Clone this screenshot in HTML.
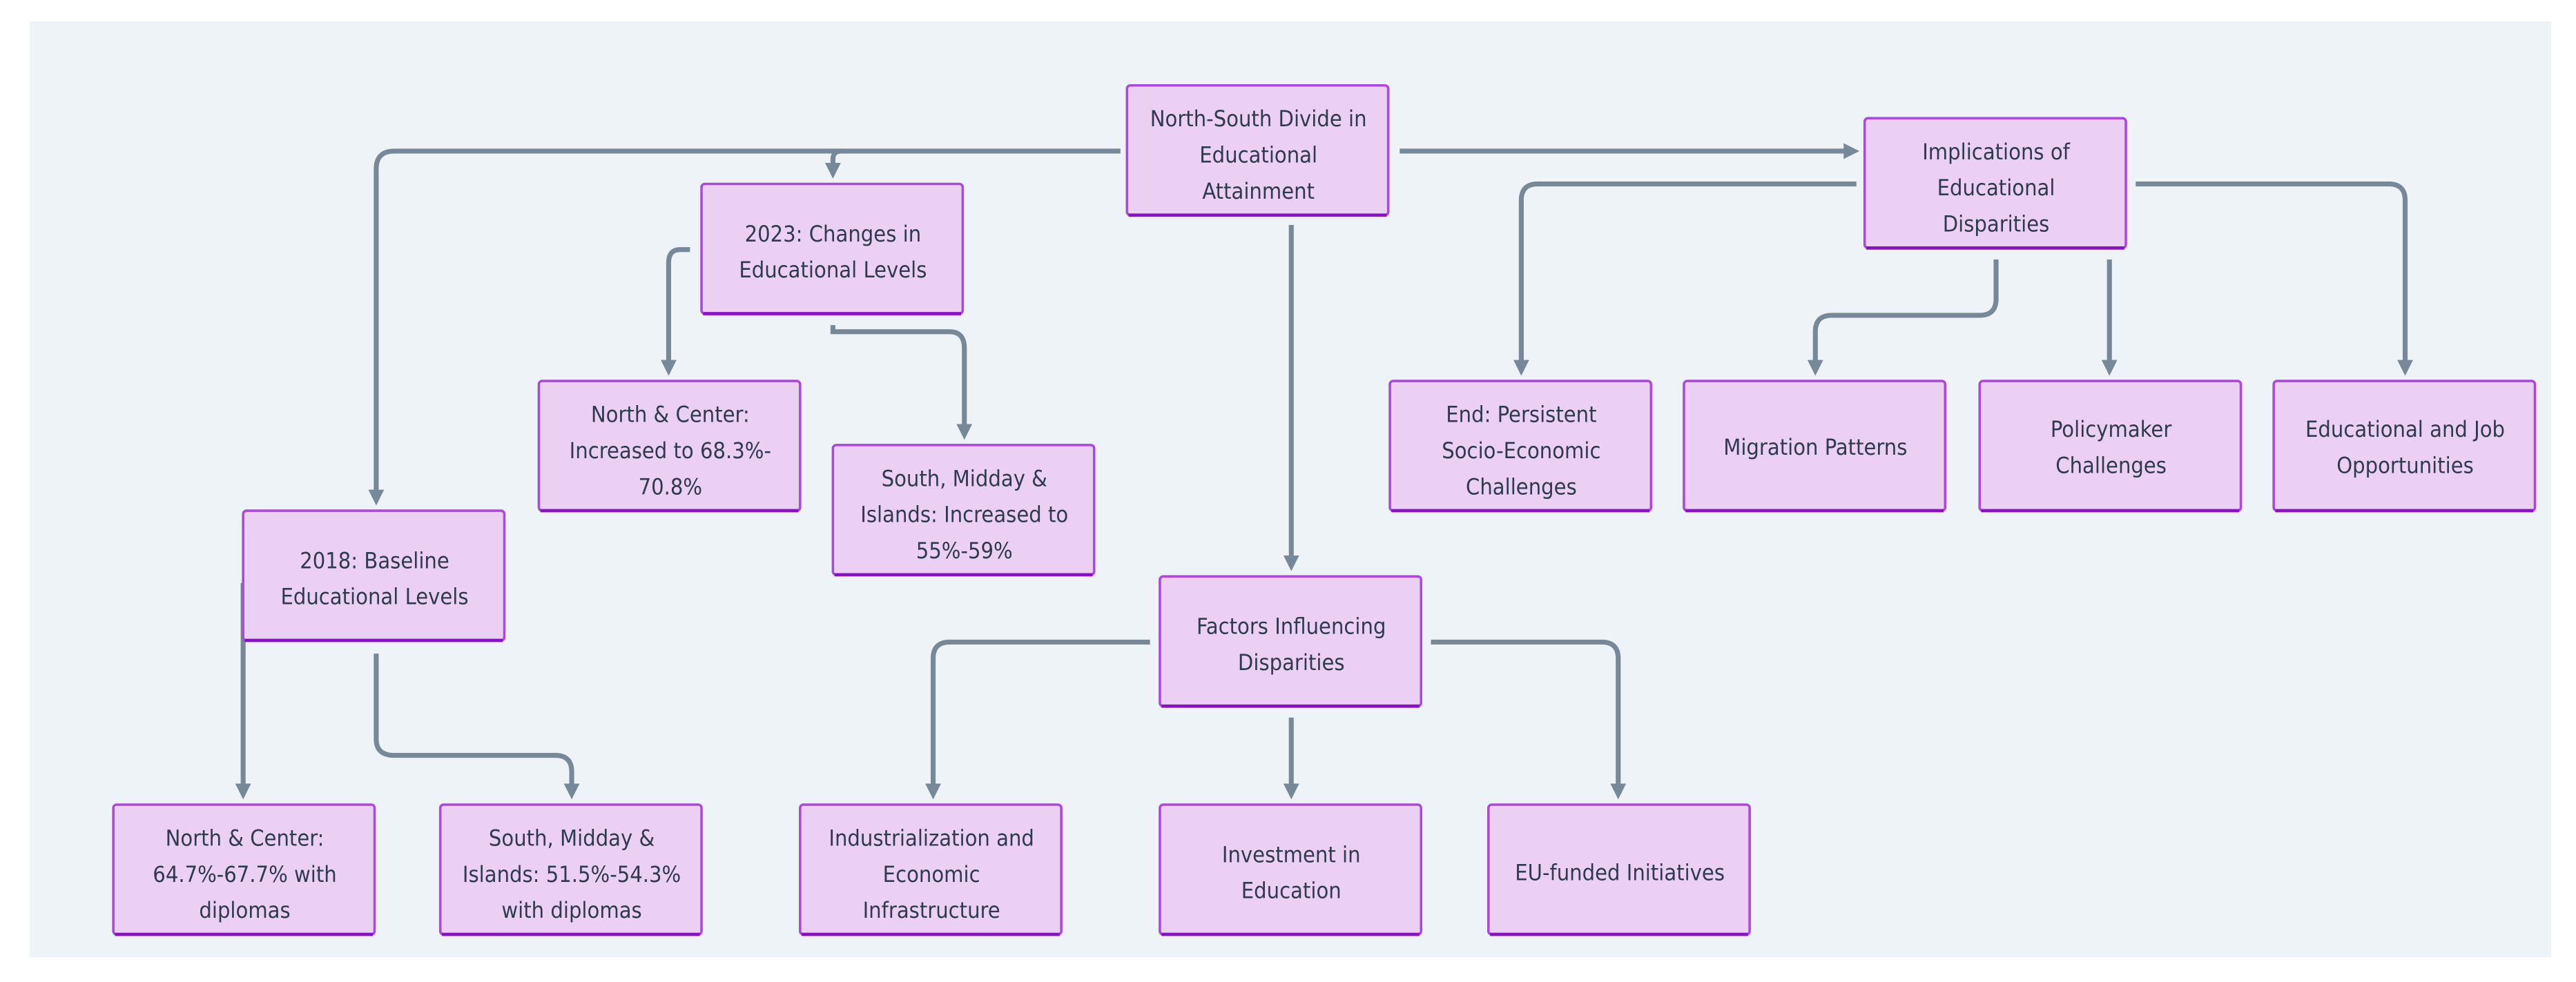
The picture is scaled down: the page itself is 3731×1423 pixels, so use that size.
<!DOCTYPE html>
<html><head><meta charset="utf-8"><style>
html,body{margin:0;padding:0;background:#fff;width:3731px;height:1423px;overflow:hidden}
svg{display:block}
text{font-family:"Liberation Sans Narrow","DejaVu Sans Condensed","Liberation Sans",sans-serif;font-size:13.6px;fill:#2f3a52;text-anchor:middle}
</style></head><body>
<svg width="3731" height="1423" viewBox="0 0 1568 598" preserveAspectRatio="none" xmlns="http://www.w3.org/2000/svg">
<defs>
<marker id="a" viewBox="0 0 10 10" refX="5" refY="5" markerWidth="3.2" markerHeight="3.2" orient="auto"><path d="M0,0 L10,5 L0,10 z" fill="#778899"/></marker>
<g id="bx"><rect x="0" y="0" width="159" height="79" rx="2" fill="#ecd0f4" stroke="#ad48dc" stroke-width="1.5"/><line x1="1" y1="79" x2="158" y2="79" stroke="#8a10c8" stroke-width="2"/></g>
</defs>
<rect x="18" y="13" width="1535" height="570" fill="#eef3f7"/>
<g fill="none" stroke="#778899" stroke-width="3" marker-end="url(#a)">
<path d="M682,92 H240 Q229,92 229,103 V303"/>
<path d="M512,92 Q507,92 507,97 V104"/>
<path d="M852,92 H1127"/>
<path d="M786,137 V343"/>
<path d="M420,152 H414 Q407,152 407,160 V224"/>
<path d="M507,198 V202 H578 Q587,202 587,212 V263"/>
<path d="M1130,112 H936 Q926,112 926,122 V224"/>
<path d="M1215,158 V182 Q1215,192 1205,192 H1115 Q1105,192 1105,202 V224"/>
<path d="M1284,158 V224"/>
<path d="M1300,112 H1454 Q1464,112 1464,122 V224"/>
<path d="M148,355 V482"/>
<path d="M229,398 V450 Q229,460 240,460 H338 Q348,460 348,470 V482"/>
<path d="M700,391 H578 Q568,391 568,401 V482"/>
<path d="M786,437 V482"/>
<path d="M871,391 H975 Q985,391 985,401 V482"/>
</g>
<use href="#bx" x="686" y="52"/>
<text x="766" y="77">North-South Divide in</text><text x="766" y="99">Educational</text><text x="766" y="121">Attainment</text>
<use href="#bx" x="1135" y="72"/>
<text x="1215" y="97">Implications of</text><text x="1215" y="119">Educational</text><text x="1215" y="141">Disparities</text>
<use href="#bx" x="427" y="112"/>
<text x="507" y="147">2023: Changes in</text><text x="507" y="169">Educational Levels</text>
<use href="#bx" x="328" y="232"/>
<text x="408" y="257">North &amp; Center:</text><text x="408" y="279">Increased to 68.3%-</text><text x="408" y="301">70.8%</text>
<use href="#bx" x="507" y="271"/>
<text x="587" y="296">South, Midday &amp;</text><text x="587" y="318">Islands: Increased to</text><text x="587" y="340">55%-59%</text>
<use href="#bx" x="846" y="232"/>
<text x="926" y="257">End: Persistent</text><text x="926" y="279">Socio-Economic</text><text x="926" y="301">Challenges</text>
<use href="#bx" x="1025" y="232"/>
<text x="1105" y="277">Migration Patterns</text>
<use href="#bx" x="1205" y="232"/>
<text x="1285" y="266">Policymaker</text><text x="1285" y="288">Challenges</text>
<use href="#bx" x="1384" y="232"/>
<text x="1464" y="266">Educational and Job</text><text x="1464" y="288">Opportunities</text>
<use href="#bx" x="148" y="311"/>
<text x="228" y="346">2018: Baseline</text><text x="228" y="368">Educational Levels</text>
<use href="#bx" x="706" y="351"/>
<text x="786" y="386">Factors Influencing</text><text x="786" y="408">Disparities</text>
<use href="#bx" x="69" y="490"/>
<text x="149" y="515">North &amp; Center:</text><text x="149" y="537">64.7%-67.7% with</text><text x="149" y="559">diplomas</text>
<use href="#bx" x="268" y="490"/>
<text x="348" y="515">South, Midday &amp;</text><text x="348" y="537">Islands: 51.5%-54.3%</text><text x="348" y="559">with diplomas</text>
<use href="#bx" x="487" y="490"/>
<text x="567" y="515">Industrialization and</text><text x="567" y="537">Economic</text><text x="567" y="559">Infrastructure</text>
<use href="#bx" x="706" y="490"/>
<text x="786" y="525">Investment in</text><text x="786" y="547">Education</text>
<use href="#bx" x="906" y="490"/>
<text x="986" y="536">EU-funded Initiatives</text>
</svg>
</body></html>
